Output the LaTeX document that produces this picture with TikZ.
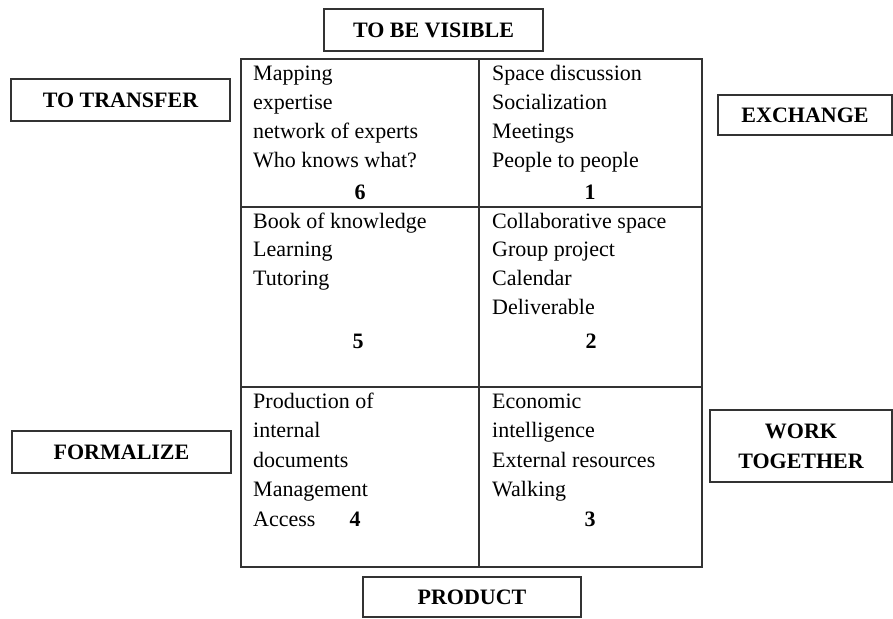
\documentclass[tikz,border=0pt]{standalone}
\usepackage{fontspec}
\setmainfont{Liberation Serif}
\newcommand{\fs}{\fontsize{22}{30}\selectfont}
\tikzset{
  cellline/.style={anchor=base west, inner sep=0pt, font=\fs},
  numtxt/.style={anchor=base, inner sep=0pt, font=\fs\bfseries},
  labbox/.style={draw=black!80, line width=1.2pt, inner sep=0pt, font=\fs\bfseries, align=center},
  gridline/.style={draw=black!80, line width=1.2pt}
}
\begin{document}
\begin{tikzpicture}[x=1pt,y=-1pt]
\useasboundingbox (0,0) rectangle (893,618);
% grid
\draw[gridline] (241,59) rectangle (702,567);
\draw[gridline] (479,59) -- (479,567);
\draw[gridline] (241,207) -- (702,207);
\draw[gridline] (241,387) -- (702,387);
% label boxes
\node[labbox, minimum width=219pt, minimum height=42pt] (vis) at (433.5,30) {TO BE VISIBLE};
\node[labbox, minimum width=219pt, minimum height=42pt] (transfer) at (120.5,100) {TO TRANSFER};
\node[labbox, minimum width=174pt, minimum height=40pt] (exchange) at (805,115) {EXCHANGE};
\node[labbox, minimum width=219pt, minimum height=42pt] (formalize) at (121.5,452) {FORMALIZE};
\node[labbox, minimum width=182pt, minimum height=72pt] (work) at (801,446) {WORK\\TOGETHER};
\node[labbox, minimum width=218pt, minimum height=40pt] (product) at (472,597) {PRODUCT};
% cell 6
\foreach \t [count=\i from 0] in {Mapping, expertise, network of experts, Who knows what?}
  \node[cellline] (csix\i) at (253,81+28.7*\i) {\t};
\node[numtxt] (nsix) at (360,199) {6};
% cell 1
\foreach \t [count=\i from 0] in {Space discussion, Socialization, Meetings, People to people}
  \node[cellline] (cone\i) at (492,81+28.7*\i) {\t};
\node[numtxt] (none) at (590,199) {1};
% cell 5
\foreach \t [count=\i from 0] in {Book of knowledge, Learning, Tutoring}
  \node[cellline] (cfive\i) at (253,228+28.7*\i) {\t};
\node[numtxt] (nfive) at (358,348) {5};
% cell 2
\foreach \t [count=\i from 0] in {Collaborative space, Group project, Calendar, Deliverable}
  \node[cellline] (ctwo\i) at (492,228+28.7*\i) {\t};
\node[numtxt] (ntwo) at (591,348) {2};
% cell 4
\foreach \t [count=\i from 0] in {Production of, internal, documents, Management, Access}
  \node[cellline] (cfour\i) at (253,408+29.5*\i) {\t};
\node[numtxt] (nfour) at (355,526) {4};
% cell 3
\foreach \t [count=\i from 0] in {Economic, intelligence, External resources, Walking}
  \node[cellline] (cthree\i) at (492,408+29.5*\i) {\t};
\node[numtxt] (nthree) at (590,526) {3};
\end{tikzpicture}
\end{document}
